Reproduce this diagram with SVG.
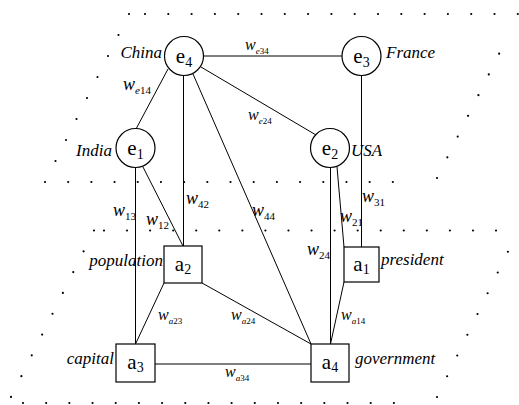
<svg xmlns="http://www.w3.org/2000/svg" width="519" height="405" viewBox="0 0 519 405" font-family="'Liberation Serif', 'Times New Roman', serif">
<style>
.bg{fill:#fff}
.dot{stroke:#000;stroke-width:2.2;stroke-linecap:round;fill:none}
.edge{stroke:#000;stroke-width:1;fill:none}
.node{fill:#fff;stroke:#000;stroke-width:1.2}
text{font-family:'Liberation Serif','Times New Roman',serif}
.nl{font-size:21px;fill:#000;text-anchor:middle}
.sub{font-size:14px}
.lab{font-style:italic;font-size:17px;fill:#000}
.w{font-style:italic;font-size:18px;fill:#000}
.ws{font-style:italic;font-size:16px;fill:#000}
.bs{font-size:11px;font-style:normal}
.ss{font-size:9px;font-style:normal}
.it{font-style:italic}
</style>
<rect class="bg" x="0" y="0" width="519" height="405"/>
<g id="regions">
<line class="dot" x1="145" y1="14" x2="519" y2="14" stroke-dasharray="0 23.3"/>
<line class="dot" x1="129" y1="14" x2="45" y2="182" stroke-dasharray="0 23.48"/>
<line class="dot" x1="45" y1="182" x2="416" y2="182" stroke-dasharray="0 23.19"/>
<line class="dot" x1="437" y1="178" x2="509.5" y2="33" stroke-dasharray="0 23.16"/>
<line class="dot" x1="104" y1="230.5" x2="519" y2="230.5" stroke-dasharray="0 23.06"/>
<line class="dot" x1="94" y1="230.5" x2="11" y2="397" stroke-dasharray="0 23.25"/>
<line class="dot" x1="23" y1="403" x2="417" y2="403" stroke-dasharray="0 23.18"/>
<line class="dot" x1="437" y1="397" x2="518" y2="231" stroke-dasharray="0 23.09"/>
</g>
<g id="connectors">
<line class="edge" x1="203" y1="56" x2="342" y2="56"/>
<line class="edge" x1="168" y1="69" x2="136" y2="129"/>
<line class="edge" x1="183.5" y1="76" x2="183.5" y2="246"/>
<line class="edge" x1="193" y1="74" x2="311" y2="344"/>
<line class="edge" x1="201" y1="67" x2="316" y2="135"/>
<line class="edge" x1="135.5" y1="167" x2="135.5" y2="344"/>
<line class="edge" x1="143" y1="167" x2="183" y2="246"/>
<line class="edge" x1="330.5" y1="167" x2="330.5" y2="344"/>
<line class="edge" x1="337" y1="167" x2="344" y2="247"/>
<line class="edge" x1="361.5" y1="75" x2="361.5" y2="247"/>
<line class="edge" x1="344" y1="282" x2="330.5" y2="344"/>
<line class="edge" x1="164" y1="283" x2="135.5" y2="344"/>
<line class="edge" x1="202" y1="283" x2="311" y2="344"/>
<line class="edge" x1="155" y1="364" x2="311" y2="364"/>
</g>
<g id="edge-labels">
<text class="ws" x="245" y="50">w<tspan class="ss it" dy="4">e</tspan><tspan class="ss">34</tspan></text>
<text class="w" x="123" y="90">w<tspan class="bs it" dy="4">e</tspan><tspan class="bs">14</tspan></text>
<text class="ws" x="248" y="120">w<tspan class="ss it" dy="4">e</tspan><tspan class="ss">24</tspan></text>
<text class="w" x="186" y="204">w<tspan class="bs" dy="4">42</tspan></text>
<text class="w" x="252" y="216">w<tspan class="bs" dy="4">44</tspan></text>
<text class="w" x="113" y="216">w<tspan class="bs" dy="4">13</tspan></text>
<text class="w" x="146" y="225">w<tspan class="bs" dy="4">12</tspan></text>
<text class="w" x="362" y="202">w<tspan class="bs" dy="4">31</tspan></text>
<text class="w" x="340" y="222">w<tspan class="bs" dy="4">21</tspan></text>
<text class="w" x="307" y="255">w<tspan class="bs" dy="4">24</tspan></text>
<text class="ws" x="341" y="320">w<tspan class="ss it" dy="4">a</tspan><tspan class="ss">14</tspan></text>
<text class="ws" x="158" y="320">w<tspan class="ss it" dy="4">a</tspan><tspan class="ss">23</tspan></text>
<text class="ws" x="231" y="320">w<tspan class="ss it" dy="4">a</tspan><tspan class="ss">24</tspan></text>
<text class="ws" x="225" y="377">w<tspan class="ss it" dy="4">a</tspan><tspan class="ss">34</tspan></text>
</g>
<g id="e4">
<circle class="node" cx="184" cy="56" r="19.5"/>
<text class="nl" x="184" y="63">e<tspan class="sub" dy="4">4</tspan></text>
<text class="lab" x="162" y="58" text-anchor="end">China</text>
</g>
<g id="e3">
<circle class="node" cx="361.5" cy="56" r="19.5"/>
<text class="nl" x="361.5" y="63">e<tspan class="sub" dy="4">3</tspan></text>
<text class="lab" x="386" y="58">France</text>
</g>
<g id="e1">
<circle class="node" cx="135.5" cy="148" r="19.5"/>
<text class="nl" x="135.5" y="155">e<tspan class="sub" dy="4">1</tspan></text>
<text class="lab" x="112" y="156" text-anchor="end">India</text>
</g>
<g id="e2">
<circle class="node" cx="330" cy="148" r="19.5"/>
<text class="nl" x="330" y="155">e<tspan class="sub" dy="4">2</tspan></text>
<text class="lab" x="351" y="156">USA</text>
</g>
<g id="a2">
<rect class="node" x="164" y="246" width="38" height="37"/>
<text class="nl" x="183" y="271">a<tspan class="sub" dy="3">2</tspan></text>
<text class="lab" x="163" y="266" text-anchor="end">population</text>
</g>
<g id="a1">
<rect class="node" x="344" y="247" width="35" height="35"/>
<text class="nl" x="361.5" y="271">a<tspan class="sub" dy="3">1</tspan></text>
<text class="lab" x="381" y="265">president</text>
</g>
<g id="a3">
<rect class="node" x="116" y="344" width="39" height="38"/>
<text class="nl" x="135.5" y="369">a<tspan class="sub" dy="3">3</tspan></text>
<text class="lab" x="114" y="364" text-anchor="end">capital</text>
</g>
<g id="a4">
<rect class="node" x="311" y="344" width="38" height="38"/>
<text class="nl" x="330" y="369">a<tspan class="sub" dy="3">4</tspan></text>
<text class="lab" x="355" y="364">government</text>
</g>
</svg>
